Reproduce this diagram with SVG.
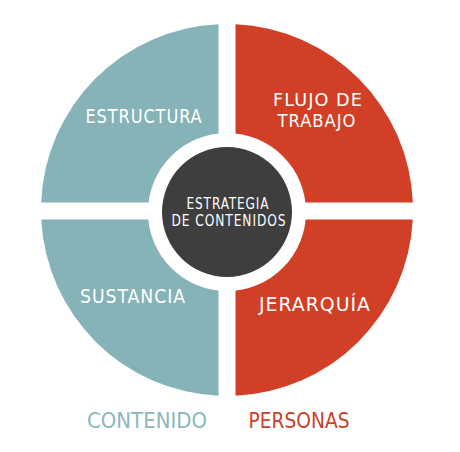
<svg xmlns="http://www.w3.org/2000/svg" width="460" height="452" viewBox="0 0 460 452">
<style>
.lbl{font-family:"DejaVu Sans Condensed","DejaVu Sans",sans-serif;fill:#ffffff;text-anchor:middle;letter-spacing:1px}
.teal{fill:#86b3b7}
.red{fill:#d13f26}
</style>
<rect width="460" height="452" fill="#ffffff"/>
<g id="estructura">
<path class="teal" d="M218.5,202.5 L218.5,24.19 A186,186 0 0 0 41.15,202.5 Z"/>
<text class="lbl" x="144" y="123" font-size="20" textLength="117" lengthAdjust="spacingAndGlyphs">ESTRUCTURA</text>
</g>
<g id="flujo">
<path class="red" d="M235.5,202.5 L235.5,24.19 A186,186 0 0 1 412.85,202.5 Z"/>
<text class="lbl" x="318" y="105.5" font-size="18" textLength="90" lengthAdjust="spacingAndGlyphs">FLUJO DE</text>
<text class="lbl" x="317" y="126.5" font-size="18" textLength="79" lengthAdjust="spacingAndGlyphs">TRABAJO</text>
</g>
<g id="sustancia">
<path class="teal" d="M218.5,219.5 L41.24,219.5 A186,186 0 0 0 218.5,395.81 Z"/>
<text class="lbl" x="133" y="302.5" font-size="20" textLength="106" lengthAdjust="spacingAndGlyphs">SUSTANCIA</text>
</g>
<g id="jerarquia">
<path class="red" d="M235.5,219.5 L412.76,219.5 A186,186 0 0 1 235.5,395.81 Z"/>
<text class="lbl" x="315" y="311" font-size="20" textLength="112" lengthAdjust="spacingAndGlyphs">JERARQUÍA</text>
</g>
<g id="centro">
<circle cx="227" cy="212" r="79" fill="#ffffff"/>
<circle cx="227" cy="212" r="65" fill="#3e3e3f"/>
<text class="lbl" x="228" y="208.5" font-size="15" textLength="83" lengthAdjust="spacingAndGlyphs">ESTRATEGIA</text>
<text class="lbl" x="229" y="226" font-size="15" textLength="115" lengthAdjust="spacingAndGlyphs">DE CONTENIDOS</text>
</g>
<g id="leyenda">
<text x="147" y="428" font-size="21" textLength="120" lengthAdjust="spacingAndGlyphs" style="font-family:'DejaVu Sans Condensed','DejaVu Sans',sans-serif;text-anchor:middle;fill:#8cb7ba">CONTENIDO</text>
<text x="299" y="428" font-size="21" textLength="101" lengthAdjust="spacingAndGlyphs" style="font-family:'DejaVu Sans Condensed','DejaVu Sans',sans-serif;text-anchor:middle;fill:#cc3f2a">PERSONAS</text>
</g>
<g id="connectors"/>
</svg>
